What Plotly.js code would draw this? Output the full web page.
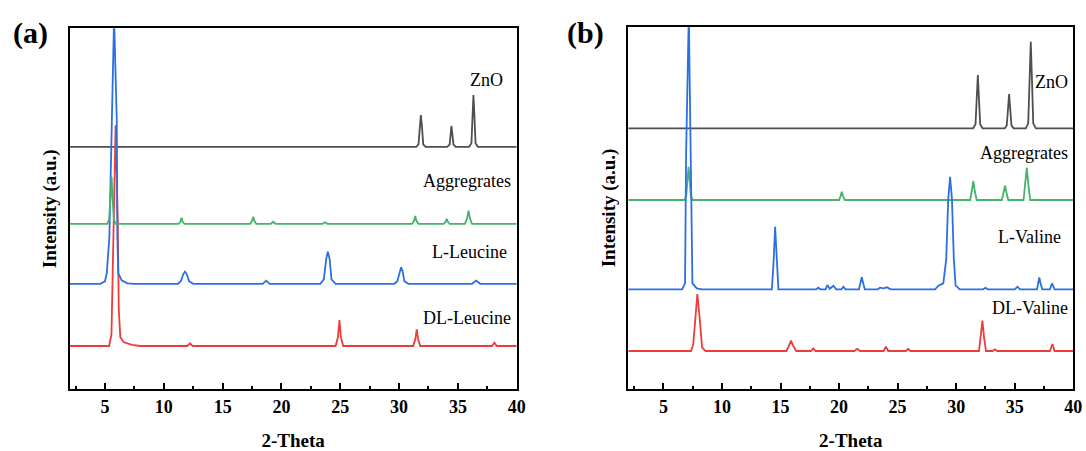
<!DOCTYPE html>
<html>
<head>
<meta charset="utf-8">
<script src="https://cdn.plot.ly/plotly-3.0.1.min.js"></script>
<style>html,body{margin:0;padding:0;background:#fff;}#chart{width:1086px;height:451px;}</style>
</head>
<body>
<div id="chart"></div>
<script>
// ---------- Panel (a): Leucine system ----------
const aZnO_x = [2, 31.45, 31.65, 31.75, 31.85, 31.95, 32.05, 32.25, 34.1, 34.3, 34.4, 34.45, 34.52, 34.62, 34.8, 35.95, 36.15, 36.25, 36.32, 36.4, 36.5, 36.7, 40];
const aZnO_y = [242.5, 242.5, 245, 262, 274.3, 262, 245, 242.5, 242.5, 245, 256, 263.5, 256, 245, 242.5, 242.5, 246, 275, 294.3, 275, 246, 242.5, 242.5];

const aAgg_x = [2, 5.2, 5.35, 5.47, 5.56, 5.64, 5.75, 5.9, 11.25, 11.4, 11.5, 11.6, 11.75, 17.35, 17.5, 17.6, 17.7, 17.85, 19.1, 19.3, 19.5, 23.5, 23.7, 23.9, 31.1, 31.27, 31.37, 31.47, 31.65, 33.8, 33.95, 34.05, 34.15, 34.3, 35.6, 35.78, 35.9, 36.02, 36.2, 40];
const aAgg_y = [165.5, 165.5, 170, 190, 212.6, 190, 170, 165.5, 165.5, 167.5, 171.5, 167.5, 165.5, 165.5, 168.5, 172.5, 168.5, 165.5, 165.5, 167.5, 165.5, 165.5, 167, 165.5, 165.5, 168.5, 173.3, 168.5, 165.5, 165.5, 167.5, 170.5, 167.5, 165.5, 165.5, 171, 178.7, 171, 165.5, 165.5];

const aLLeu_x = [2, 4.6, 5.0, 5.15, 5.37, 5.57, 5.77, 6.0, 6.05, 6.13, 6.42, 6.9, 7.5, 11.2, 11.45, 11.65, 11.8, 11.95, 12.15, 12.5, 18.4, 18.7, 19.0, 23.3, 23.6, 23.8, 23.94, 24.1, 24.25, 24.6, 29.6, 29.85, 30.05, 30.17, 30.3, 30.45, 30.8, 36.2, 36.55, 36.9, 40];
const aLLeu_y = [105.5, 105.5, 108, 116, 152, 269, 372, 269, 152, 116, 109, 106, 105.5, 105.5, 108, 115, 117.7, 115, 108, 105.5, 105.5, 108.7, 105.5, 105.5, 110, 130, 137.7, 130, 110, 105.5, 105.5, 108, 118, 122, 118, 108, 105.5, 105.5, 108.7, 105.5, 105.5];

const aDLLeu_x = [2, 5.35, 5.55, 5.7, 5.9, 6.08, 6.17, 6.3, 6.6, 7.3, 8, 12.0, 12.23, 12.45, 24.6, 24.8, 24.93, 25.05, 25.25, 31.2, 31.38, 31.5, 31.62, 31.8, 37.9, 38.1, 38.3, 40];
const aDLLeu_y = [43.3, 43.3, 55, 150, 264, 170, 80, 52, 47, 44.5, 43.3, 43.3, 46, 43.3, 43.3, 52, 69.3, 52, 43.3, 43.3, 50, 60, 50, 43.3, 43.3, 46.7, 43.3, 43.3];

// ---------- Panel (b): Valine system ----------
const bZnO_x = [2, 31.45, 31.65, 31.75, 31.85, 31.95, 32.05, 32.25, 34.15, 34.32, 34.43, 34.52, 34.61, 34.72, 34.9, 35.95, 36.15, 36.27, 36.37, 36.47, 36.58, 36.8, 40];
const bZnO_y = [261, 261, 265, 290, 314.3, 290, 265, 261, 261, 264, 281, 295.3, 281, 264, 261, 261, 266, 310, 347.6, 310, 266, 261, 261];

const bAgg_x = [2, 6.8, 6.95, 7.05, 7.15, 7.25, 7.35, 7.5, 20.0, 20.12, 20.23, 20.34, 20.5, 31.2, 31.35, 31.47, 31.59, 31.75, 33.9, 34.06, 34.18, 34.3, 34.45, 35.75, 35.9, 36.03, 36.16, 36.32, 40];
const bAgg_y = [189.3, 189.3, 193, 208, 222.6, 208, 193, 189.3, 189.3, 193, 197.6, 193, 189.3, 189.3, 198, 208.3, 198, 189.3, 189.3, 196, 203.6, 196, 189.3, 189.3, 205, 221.6, 205, 189.3, 189.3];

const bLVal_x = [2, 6.6, 6.85, 6.94, 7.17, 7.36, 7.48, 7.85, 8.3, 14.26, 14.4, 14.54, 14.68, 14.82, 18.05, 18.23, 18.4, 18.85, 19.0, 19.2, 19.52, 19.75, 20.2, 20.37, 20.55, 21.7, 21.82, 21.94, 22.06, 22.2, 23.3, 23.5, 23.8, 24.1, 24.4, 28.2, 28.48, 28.9, 29.15, 29.32, 29.48, 29.64, 29.8, 29.95, 30.3, 32.3, 32.5, 32.7, 35.0, 35.23, 35.45, 36.9, 37.0, 37.1, 37.2, 37.35, 38.0, 38.19, 38.4, 40];
const bLVal_y = [100, 100, 106, 236, 375, 236, 106, 101, 100, 100, 125, 162.6, 125, 100, 100, 101.6, 100, 100, 104.3, 100.5, 103.6, 100, 100, 102.6, 100, 100, 106, 112, 106, 100, 100, 101.6, 101, 102, 100, 100, 103.6, 106, 130, 190, 212.6, 190, 130, 104, 100, 100, 101.5, 100, 100, 102.6, 100, 100, 106, 112, 106, 100, 100, 106, 100, 100];

const bDLVal_x = [2, 7.36, 7.55, 7.7, 7.9, 8.13, 8.3, 8.6, 15.5, 15.7, 15.9, 16.1, 16.35, 17.6, 17.8, 18.0, 21.3, 21.55, 21.8, 23.8, 24.0, 24.2, 25.7, 25.9, 26.1, 31.95, 32.1, 32.24, 32.38, 32.55, 33.1, 33.3, 33.5, 38.0, 38.22, 38.4, 40];
const bDLVal_y = [38.3, 38.3, 45, 67, 95.3, 67, 42, 38.3, 38.3, 43, 48.6, 43, 38.3, 38.3, 41, 38.3, 38.3, 40.5, 38.3, 38.3, 42.6, 38.3, 38.3, 40.3, 38.3, 38.3, 52, 68.6, 52, 38.3, 38.3, 40, 38.3, 38.3, 45.3, 38.3, 38.3];

// ---------- Series labels ----------
const aLabels = ["ZnO", "Aggregrates", "L-Leucine", "DL-Leucine"];
const aLabelX = [37.46, 35.76, 36.02, 35.8];
const aLabelY = [309.3, 208.6, 137, 71.5];
const bLabels = ["ZnO", "Aggregrates", "L-Valine", "DL-Valine"];
const bLabelX = [38.16, 35.8, 36.3, 36.3];
const bLabelY = [307.6, 236, 152, 81];

const COLORS = {zno: "#4f4f4f", agg: "#45b36b", l: "#2b6fe3", dl: "#ee3b3b"};
const serif = "Liberation Serif";

function tr(x, y, color, xa, ya) {
  return {x: x, y: y, type: "scatter", mode: "lines", xaxis: xa, yaxis: ya,
          line: {color: color, width: 1.8}, hoverinfo: "skip"};
}

const data = [
  tr(aZnO_x, aZnO_y, COLORS.zno, "x", "y"),
  tr(aDLLeu_x, aDLLeu_y, COLORS.dl, "x", "y"),
  tr(aLLeu_x, aLLeu_y, COLORS.l, "x", "y"),
  tr(aAgg_x, aAgg_y, COLORS.agg, "x", "y"),
  tr(bZnO_x, bZnO_y, COLORS.zno, "x2", "y2"),
  tr(bAgg_x, bAgg_y, COLORS.agg, "x2", "y2"),
  tr(bDLVal_x, bDLVal_y, COLORS.dl, "x2", "y2"),
  tr(bLVal_x, bLVal_y, COLORS.l, "x2", "y2")
];

function xaxisDef(domain, anchor) {
  return {
    domain: domain, anchor: anchor, range: [2, 40],
    showline: true, mirror: true, linecolor: "black", linewidth: 2,
    ticks: "inside", ticklen: 6, tickwidth: 2, tickcolor: "black",
    tick0: 0, dtick: 5,
    minor: {tick0: 0, dtick: 2.5, ticks: "inside", ticklen: 3, tickwidth: 2, tickcolor: "black", showgrid: false},
    showgrid: false, zeroline: false,
    tickfont: {family: serif, size: 18, weight: "bold", color: "black"},
    title: {text: "2-Theta", font: {family: serif, size: 19, weight: "bold", color: "black"}, standoff: 18}
  };
}
function yaxisDef(domain, anchor, top) {
  return {
    domain: domain, anchor: anchor, range: [0, top],
    showline: true, mirror: true, linecolor: "black", linewidth: 2,
    ticks: "", showticklabels: false, showgrid: false, zeroline: false,
    title: {text: "Intensity (a.u.)", font: {family: serif, size: 19, weight: "bold", color: "black"}, standoff: 6}
  };
}

const annotations = [];
aLabels.forEach((t, i) => annotations.push({x: aLabelX[i], y: aLabelY[i], xref: "x", yref: "y", text: t, showarrow: false,
  xanchor: "center", yanchor: "middle", font: {family: serif, size: 18, color: "black"}}));
bLabels.forEach((t, i) => annotations.push({x: bLabelX[i], y: bLabelY[i], xref: "x2", yref: "y2", text: t, showarrow: false,
  xanchor: "center", yanchor: "middle", font: {family: serif, size: 18, color: "black"}}));
annotations.push({x: 0.0285, y: 0.927, xref: "paper", yref: "paper", text: "(a)", showarrow: false,
  xanchor: "center", yanchor: "middle", font: {family: serif, size: 30, weight: "bold", color: "black"}});
annotations.push({x: 0.5395, y: 0.927, xref: "paper", yref: "paper", text: "(b)", showarrow: false,
  xanchor: "center", yanchor: "middle", font: {family: serif, size: 30, weight: "bold", color: "black"}});

const layout = {
  width: 1086, height: 451,
  margin: {l: 0, r: 0, t: 0, b: 0},
  paper_bgcolor: "white", plot_bgcolor: "white",
  showlegend: false,
  font: {family: serif, color: "black"},
  xaxis: xaxisDef([0.0642, 0.4758], "y"),
  yaxis: yaxisDef([0.1368, 0.9373], "x", 361),
  xaxis2: xaxisDef([0.5785, 0.9883], "y2"),
  yaxis2: yaxisDef([0.1368, 0.9412], "x2", 362.8),
  annotations: annotations
};

Plotly.newPlot("chart", data, layout, {staticPlot: true, displayModeBar: false});
</script>
</body>
</html>
